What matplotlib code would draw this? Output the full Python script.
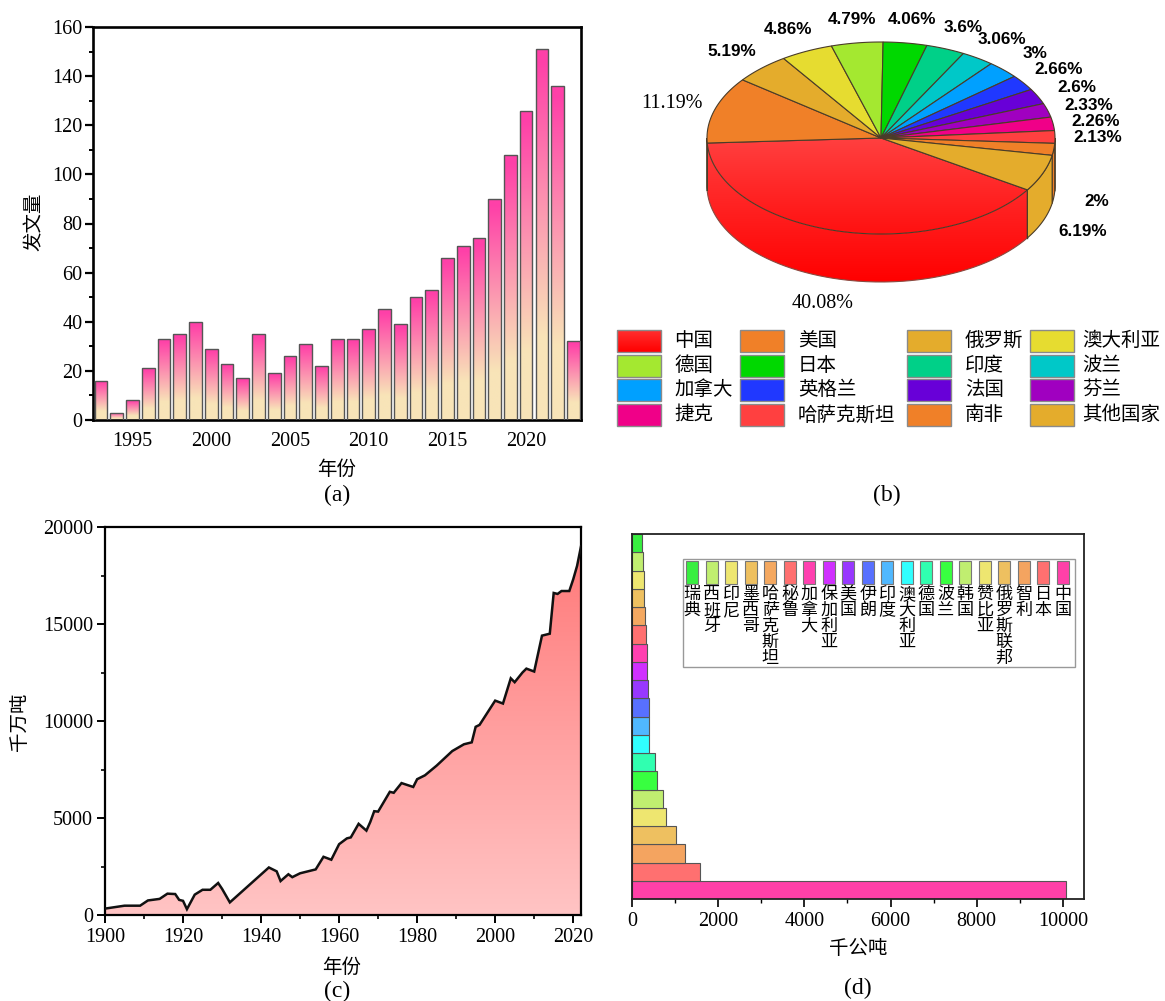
import numpy as np
import matplotlib
matplotlib.use("Agg")
import matplotlib.pyplot as plt
from matplotlib.colors import to_rgb
from matplotlib.patches import Polygon, Rectangle
from matplotlib.ticker import MultipleLocator

plt.rcParams['font.family'] = ['Liberation Serif', 'Noto Sans CJK SC']

# (a) papers per year
paper_years = list(range(1993, 2024))
paper_counts = [16, 3, 8, 21, 33, 35, 40, 29, 23, 17, 35, 19, 26, 31, 22, 33,
                33, 37, 45, 39, 50, 53, 66, 71, 74, 90, 108, 126, 151, 136, 32]

# (b) share by country
pie_names = ['中国', '美国', '俄罗斯', '澳大利亚', '德国', '日本', '印度', '波兰',
             '加拿大', '英格兰', '法国', '芬兰', '捷克', '哈萨克斯坦', '南非', '其他国家']
pie_shares = [40.08, 11.19, 5.19, 4.86, 4.79, 4.06, 3.6, 3.06,
              3, 2.66, 2.6, 2.33, 2.26, 2.13, 2, 6.19]
pie_colors = ['#ff2a2a', '#f08028', '#e4ac2c', '#e6dc30', '#a4e830', '#00d800', '#00d088', '#00c8c8',
              '#00a0ff', '#2038ff', '#6800d8', '#a000c0', '#f00088', '#ff4040', '#f08028', '#e4ac2c']

# (c) production per year, read at the line's corners
prod_years = [1900, 1905, 1909, 1911, 1914, 1916, 1918, 1919, 1920, 1921, 1923, 1925, 1927, 1929,
              1930, 1932, 1942, 1944, 1945, 1947, 1948, 1950, 1954, 1956, 1958, 1960, 1962, 1963,
              1965, 1967, 1968, 1969, 1970, 1973, 1974, 1976, 1979, 1980, 1982, 1985, 1989, 1992,
              1994, 1995, 1996, 2000, 2002, 2004, 2005, 2007, 2008, 2010, 2012, 2014, 2015, 2016,
              2017, 2019, 2020, 2021, 2022]
prod_values = [330, 480, 480, 750, 830, 1100, 1080, 780, 730, 300, 1050, 1300, 1300, 1650,
               1350, 650, 2450, 2250, 1750, 2100, 1950, 2150, 2350, 3000, 2850, 3650, 3950, 4000,
               4700, 4350, 4800, 5350, 5330, 6350, 6300, 6800, 6600, 7000, 7200, 7700, 8450, 8800,
               8900, 9700, 9800, 11050, 10900, 12200, 12000, 12500, 12700, 12550, 14400, 14500, 16600, 16550,
               16700, 16700, 17300, 18000, 19000]

# (d) reserves, bottom bar first
res_names = ['中国', '日本', '智利', '俄罗斯联邦', '赞比亚', '韩国', '波兰', '德国', '澳大利亚', '印度',
             '伊朗', '美国', '保加利亚', '加拿大', '秘鲁', '哈萨克斯坦', '墨西哥', '印尼', '西班牙', '瑞典']
res_values = [10078, 1578, 1230, 1028, 797, 711, 580, 526, 402, 394,
              387, 364, 356, 348, 317, 302, 286, 286, 263, 224]
res_colors = ['#ff40a8', '#ff7070', '#f4a460', '#eec060', '#eee670', '#c0ee70', '#38ff40', '#30ffb0', '#30ffff', '#50b8ff',
              '#5870ff', '#9838ff', '#d030ff', '#ff40b0', '#ff7070', '#f4a860', '#eec060', '#eee670', '#c0ee70', '#38ee40']

W, H = 1165, 1001
fig = plt.figure(figsize=(W / 100, H / 100), dpi=100)


def px_axes(left, top, right, bottom):
    return fig.add_axes([left / W, 1 - bottom / H, (right - left) / W, (bottom - top) / H])


def grad(top, bottom, lead=0.0, span=1.0, n=128):
    c0, c1 = np.array(to_rgb(top)), np.array(to_rgb(bottom))
    t = np.clip((np.linspace(0, 1, n) - lead) / span, 0, 1)[:, None, None]
    return c0 * (1 - t) + c1 * t


def fill_grad(ax, patch, colors, x0, x1, y_low, y_high, z):
    # gradient picture clipped to the patch
    im = ax.imshow(colors, extent=[x0, x1, y_low, y_high], aspect='auto',
                   interpolation='bilinear', zorder=z)
    im.set_clip_path(patch)


over = fig.add_axes([0, 0, 1, 1], zorder=5)
over.patch.set_alpha(0)
over.axis('off')

# ---- (a)
ax = px_axes(93, 27, 581, 420)
bars = ax.bar(paper_years, paper_counts, width=0.8, facecolor='none', edgecolor='#555555', linewidth=1.0, zorder=3)
bar_grad = grad('#ff40a8', '#f8e4b8', 0.03, 0.75)
for b in bars:
    fill_grad(ax, b, bar_grad, b.get_x(), b.get_x() + b.get_width(), 0, b.get_height(), 2)
ax.set_xlim(1992.49, 2023.48)
ax.set_ylim(0, 160)
ax.xaxis.set_major_locator(MultipleLocator(5))
ax.yaxis.set_major_locator(MultipleLocator(20))
ax.yaxis.set_minor_locator(MultipleLocator(10))
ax.tick_params(axis='x', length=0, labelsize=14.5, pad=9)
ax.tick_params(axis='y', which='major', length=5.5, width=1.6, labelsize=14.5, pad=2)
ax.tick_params(axis='y', which='minor', length=3, width=1.4)
for s in ax.spines.values():
    s.set_linewidth(1.9)
ax.set_xlabel('年份', fontsize=14, va='center')
ax.xaxis.set_label_coords(337, 470, transform=over.transData)
ax.set_ylabel('发文量', fontsize=14, va='center')
ax.yaxis.set_label_coords(35, 222, transform=over.transData)

# ---- (c)
ax = px_axes(105, 527, 581, 915)
area = ax.fill_between(prod_years, prod_values, 0, facecolor='none', edgecolor='none')
im = ax.imshow(grad('#ff7a7a', '#ffc4c4'), extent=[1900, 2022, 0, max(prod_values)], aspect='auto',
               interpolation='bilinear', zorder=2)
im.set_clip_path(area.get_paths()[0], ax.transData)
ax.plot(prod_years, prod_values, color='#111111', linewidth=1.8, zorder=3, solid_joinstyle='miter')
ax.set_xlim(1900, 2022)
ax.set_ylim(0, 20000)
ax.xaxis.set_major_locator(MultipleLocator(20))
ax.xaxis.set_minor_locator(MultipleLocator(10))
ax.yaxis.set_major_locator(MultipleLocator(5000))
ax.yaxis.set_minor_locator(MultipleLocator(2500))
ax.tick_params(which='major', length=5.5, width=1.4, labelsize=14.5, pad=3)
ax.tick_params(axis='x', which='major', pad=4)
ax.tick_params(which='minor', length=3, width=1.2)
for s in ax.spines.values():
    s.set_linewidth(1.6)
ax.set_xlabel('年份', fontsize=14, va='center')
ax.xaxis.set_label_coords(342, 968, transform=over.transData)
ax.set_ylabel('千万吨', fontsize=14, va='center')
ax.yaxis.set_label_coords(20, 722, transform=over.transData)

# ---- (d)
ax = px_axes(632, 534, 1084, 899)
ypos = np.arange(len(res_values))
ax.barh(ypos, res_values, height=1.0, color=res_colors, edgecolor='#555555', linewidth=0.8)
ax.set_xlim(0, 10490)
ax.set_ylim(-0.5, 19.5)
ax.set_yticks([])
ax.xaxis.set_major_locator(MultipleLocator(2000))
ax.xaxis.set_minor_locator(MultipleLocator(1000))
ax.tick_params(which='major', length=5.5, width=1.2, labelsize=14.5, pad=4)
ax.tick_params(which='minor', length=3, width=1.0)
for s in ax.spines.values():
    s.set_linewidth(1.3)
    s.set_color('#222222')
ax.set_xlabel('千公吨', fontsize=14, va='center')
ax.xaxis.set_label_coords(858, 949, transform=over.transData)

# legend of (d), China at the right end
over.add_patch(Rectangle((683, 559), 392, 108, facecolor='white', edgecolor='#999999', linewidth=1.0, zorder=6))
for i, (name, col) in enumerate(zip(res_names, res_colors)):
    sx = 1062.7 - i * 19.5
    over.add_patch(Rectangle((sx - 5.8, 561), 11.6, 23, facecolor=col, edgecolor='#777777', linewidth=0.8, zorder=7))
    for k, ch in enumerate(name):
        over.text(sx, 595 + k * 16, ch, fontsize=12.3, ha='center', va='center', zorder=7)

# ---- (b) pie, cut clockwise from the lower right
cx, cy, rx, ry, depth = 881, 138, 174, 96, 48
start = 327.3
edges = start - np.cumsum([0] + pie_shares) * 3.6


def rim(a, b):
    t = np.radians(np.linspace(a, b, max(int(abs(a - b)) * 2, 2) + 1))
    return np.c_[cx + rx * np.cos(t), cy - ry * np.sin(t)]


edge_col = '#4a3c28'
# side wall, only the part facing the viewer
for i, col in enumerate(pie_colors):
    for low, high in [(180, 360), (-180, 0)]:
        hi2, lo2 = min(edges[i], high), max(edges[i + 1], low)
        if hi2 <= lo2:
            continue
        arc = rim(hi2, lo2)
        wall = np.vstack([arc, arc[::-1] + [0, depth]])
        if i == 0:
            p = Polygon(wall, closed=True, facecolor='none', edgecolor='none', zorder=8)
            over.add_patch(p)
            fill_grad(over, p, grad('#ff4040', '#ff0000'), cx - rx, cx + rx, cy + ry + depth, cy, 7)
            # only the lower rim and the cut edge are outlined
            over.plot(arc[:, 0], arc[:, 1] + depth, color='#8a4a40', linewidth=0.8, zorder=8)
            over.plot([arc[0, 0], arc[0, 0]], [arc[0, 1], arc[0, 1] + depth], color=edge_col, linewidth=1.0, zorder=8)
        else:
            over.add_patch(Polygon(wall, closed=True, facecolor=col, edgecolor=edge_col, linewidth=0.8, zorder=8))

# top face
for i, col in enumerate(pie_colors):
    xy = np.vstack([[cx, cy], rim(edges[i], edges[i + 1])])
    if i == 0:
        p = Polygon(xy, closed=True, facecolor='none', edgecolor=edge_col, linewidth=0.8, zorder=10)
        over.add_patch(p)
        fill_grad(over, p, grad('#ff4040', '#ff1010'), cx - rx, cx + rx, cy + ry, cy, 9)
    else:
        over.add_patch(Polygon(xy, closed=True, facecolor=col, edgecolor=edge_col, linewidth=0.8, zorder=10))

# pie labels were hand placed in the source figure
label_px = [(823, 304), (672, 104), (732, 52), (788, 30), (852, 20), (912, 20), (963, 27), (1002, 39),
            (1035, 53), (1059, 70), (1077, 87), (1089, 105), (1096, 122), (1098, 138), (1097, 202), (1083, 232)]
for i, (share, (lx, ly)) in enumerate(zip(pie_shares, label_px)):
    txt = f'{share:g}%'
    if i < 2:
        over.text(lx, ly, txt, fontsize=14.5, ha='center', va='center', zorder=11)
    else:
        over.text(lx, ly, txt, fontsize=12.3, family=['Liberation Sans'], weight='bold',
                  ha='center', va='center', zorder=11)

# legend of (b), four columns across
col_x = [(617, 674), (740, 798), (907, 965), (1030, 1082)]
row_y = [330, 355, 379, 404]
for i, (name, col) in enumerate(zip(pie_names, pie_colors)):
    sw, tx = col_x[i % 4]
    y = row_y[i // 4]
    r = Rectangle((sw, y), 44, 22, facecolor='none' if i == 0 else col, edgecolor='#8a8a8a', linewidth=1.0, zorder=8)
    over.add_patch(r)
    if i == 0:
        fill_grad(over, r, grad('#ff3030', '#ff0000'), sw, sw + 44, y + 22, y, 7)
    over.text(tx, y + 11, name, fontsize=14, ha='left', va='center', zorder=8)

# panel letters
for letter, lx, ly in [('(a)', 337, 495), ('(b)', 887, 495), ('(c)', 337, 991), ('(d)', 858, 988)]:
    over.text(lx, ly, letter, fontsize=17, ha='center', va='center')

over.set_xlim(0, W)
over.set_ylim(H, 0)

fig.savefig('out.png', dpi=100)
